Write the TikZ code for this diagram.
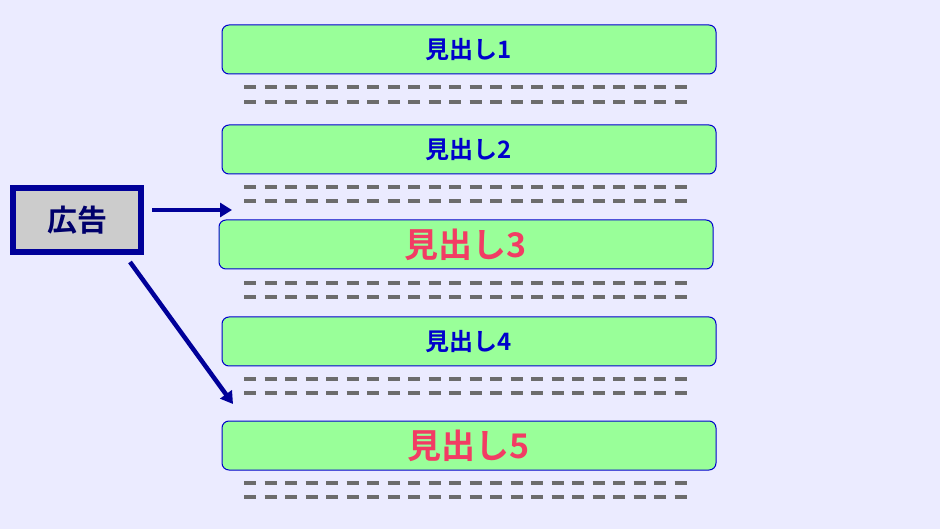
\documentclass[tikz,border=0pt]{standalone}
\usepackage{fontspec}
\newfontfamily\cjk[BoldFont={Noto Sans CJK JP Bold}]{Noto Sans CJK JP}
\usetikzlibrary{arrows.meta}
\definecolor{bg}{HTML}{EBEBFF}
\definecolor{hgreen}{HTML}{99FF99}
\definecolor{hblue}{HTML}{0000CC}
\definecolor{hred}{HTML}{F23C64}
\definecolor{navy}{HTML}{000099}
\tikzset{
 head/.style={draw=hblue, line width=1pt, fill=hgreen, rounded corners=7pt, minimum width=494pt, minimum height=49pt, inner sep=0pt, font=\cjk\bfseries\fontsize{24}{24}\selectfont, text=hblue},
 big/.style={font=\cjk\bfseries\fontsize{34}{34}\selectfont, text=hred},
 dl/.style={gray!85!black, line width=4pt, dash pattern=on 12pt off 8.5pt},
 ar/.style={navy, line width=4.5pt, -{Triangle[length=12pt,width=14pt]}}
}
\begin{document}
\begin{tikzpicture}[x=1pt,y=-1pt]
\fill[bg] (0,0) rectangle (940,529);
\useasboundingbox (0,0) rectangle (940,529);
\node[head] (h1) at (469,49.5) {見出し1};
\node[head] (h2) at (469,149.5) {見出し2};
\node[head,big] (h3) at (466,244.5) {見出し3};
\node[head] (h4) at (469,341.5) {見出し4};
\node[head,big] (h5) at (469,445.5) {見出し5};
\foreach \y in {87,102,187,201,283,297,379,393,483,497}
  \draw[dl] (244,\y) -- (690,\y);
\node[draw=navy, line width=6pt, fill=gray!40, minimum width=128pt, minimum height=64pt, inner sep=0pt, font=\cjk\bfseries\fontsize{30}{30}\selectfont, text=navy!70!black] (ad) at (77,220) {広告};
\coordinate (a1) at (232,210);
\coordinate (a2) at (233,404);
\draw[ar] (152,210) -- (a1);
\draw[ar] (130,262) -- (a2);
\end{tikzpicture}
\end{document}
